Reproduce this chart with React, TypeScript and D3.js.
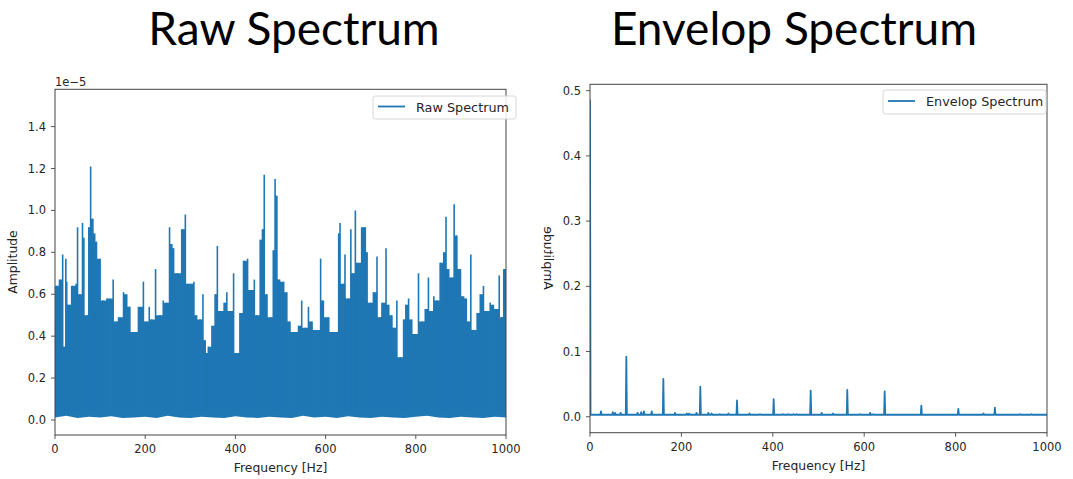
import React from "react";
import * as d3 from "d3";

// ---------- Raw spectrum (amplitude in units of 1e-5) ----------
// upper contour of the dense spectrum
const RAW_PEAK_HZ = [
  0, 2, 10, 17, 20, 24, 26, 31, 37, 47,
  50, 55, 61, 64, 72, 75, 79, 84, 88, 92,
  100, 107, 115, 129, 137, 141, 152, 159, 166, 174,
  185, 196, 203, 209, 214, 223, 233, 240, 248, 254,
  259, 263, 270, 281, 289, 296, 303, 308, 314, 322,
  328, 333, 337, 340, 348, 355, 360, 366, 375, 381,
  388, 396, 405, 410, 418, 427, 433, 442, 447, 455,
  460, 464, 470, 479, 484, 488, 492, 498, 507, 514,
  521, 533, 540, 547, 555, 562, 570, 577, 589, 595,
  607, 614, 629, 632, 640, 643, 651, 656, 660, 666,
  671, 680, 688, 692, 699, 706, 714, 721, 725, 734,
  740, 747, 752, 758, 766, 773, 778, 784, 791, 799,
  806, 814, 821, 828, 832, 840, 847, 854, 862, 867,
  873, 880, 885, 891, 899, 906, 912, 917, 922, 928,
  936, 943, 950, 958, 965, 972, 980, 985, 991, 995,
  1000,
];
const RAW_PEAK_AMP = [
  0.47, 0.64, 0.67, 0.79, 0.35, 0.77, 0.66, 0.55, 0.64, 0.65,
  0.92, 0.6, 0.94, 0.87, 0.5, 0.92, 1.21, 0.96, 0.89, 0.85,
  0.77, 0.57, 0.58, 0.67, 0.47, 0.49, 0.61, 0.6, 0.54, 0.42,
  0.54, 0.66, 0.47, 0.54, 0.48, 0.72, 0.5, 0.57, 0.56, 0.92,
  0.84, 0.82, 0.7, 0.91, 0.98, 0.65, 0.65, 0.66, 0.5, 0.48,
  0.6, 0.38, 0.32, 0.35, 0.45, 0.6, 0.83, 0.52, 0.56, 0.61,
  0.52, 0.7, 0.32, 0.51, 0.76, 0.77, 0.62, 0.67, 0.5, 0.86,
  0.91, 1.17, 0.6, 0.49, 0.81, 1.15, 1.07, 0.67, 0.66, 0.61,
  0.47, 0.42, 0.45, 0.57, 0.44, 0.54, 0.47, 0.43, 0.77, 0.57,
  0.49, 0.42, 0.89, 0.94, 0.65, 0.79, 0.58, 0.91, 0.7, 1.0,
  0.75, 0.92, 0.92, 0.8, 0.56, 0.61, 0.78, 0.49, 0.56, 0.82,
  0.55, 0.5, 0.44, 0.57, 0.3, 0.48, 0.55, 0.58, 0.48, 0.41,
  0.7, 0.47, 0.53, 0.68, 0.52, 0.59, 0.57, 0.75, 0.8, 0.97,
  0.72, 0.68, 1.03, 0.88, 0.72, 0.59, 0.58, 0.47, 0.79, 0.43,
  0.51, 0.6, 0.64, 0.52, 0.56, 0.55, 0.53, 0.69, 0.49, 0.72,
  0.72,
];
// lower edge of the dense spectrum on a coarse grid
const RAW_FLOOR_HZ = [
  0, 25, 50, 75, 100, 125, 150, 175, 200, 225,
  250, 275, 300, 325, 350, 375, 400, 425, 450, 475,
  500, 525, 550, 575, 600, 625, 650, 675, 700, 725,
  750, 775, 800, 825, 850, 875, 900, 925, 950, 975, 1000,
];
const RAW_FLOOR_AMP = [
  0.012, 0.02, 0.01, 0.015, 0.012, 0.018, 0.01, 0.012, 0.015, 0.01,
  0.02, 0.012, 0.01, 0.015, 0.012, 0.01, 0.018, 0.012, 0.01, 0.015,
  0.012, 0.01, 0.02, 0.012, 0.015, 0.01, 0.018, 0.012, 0.01, 0.015,
  0.012, 0.01, 0.015, 0.02, 0.012, 0.01, 0.015, 0.012, 0.01, 0.015, 0.012,
];
const RAW_Y_TICKS = [0, 0.2, 0.4, 0.6, 0.8, 1.0, 1.2, 1.4];
const RAW_Y_DOMAIN = [-0.0716, 1.578];

// ---------- Envelope spectrum ----------
const ENV_DC = 0.486;
const ENV_BASE = 0.003;
const ENV_HARM_HZ = [79.5, 160.5, 241.4, 321.7, 401.9, 482.9, 563, 644.8, 725, 806, 886];
const ENV_HARM_AMP = [0.092, 0.058, 0.046, 0.025, 0.027, 0.04, 0.041, 0.039, 0.017, 0.012, 0.014];
const ENV_BUMP_HZ = [24, 50, 55, 67, 104, 112, 118, 135, 186, 212, 217, 233, 259, 266, 284, 303, 349, 372, 422, 434, 445, 452, 507, 532, 591, 613, 620, 667, 700, 777, 861, 941, 966];
const ENV_BUMP_AMP = [0.008, 0.007, 0.006, 0.006, 0.006, 0.007, 0.008, 0.008, 0.006, 0.005, 0.005, 0.006, 0.006, 0.005, 0.004, 0.005, 0.005, 0.004, 0.004, 0.004, 0.004, 0.004, 0.006, 0.005, 0.004, 0.006, 0.004, 0.003, 0.003, 0.003, 0.005, 0.004, 0.004];
const ENV_Y_TICKS = [0, 0.1, 0.2, 0.3, 0.4, 0.5];
const ENV_Y_DOMAIN = [-0.0245, 0.5098];

const X_TICKS = [0, 200, 400, 600, 800, 1000];

const BLUE = "#1f77b4";
const TICK_FONT = "DejaVu Sans, sans-serif";

function Axes({ left, right, top, bottom, yDomain, yTicks, fmt, children, clipId }) {
  const x = d3.scaleLinear().domain([0, 1000]).range([left, right]);
  const y = d3.scaleLinear().domain(yDomain).range([bottom, top]);
  return (
    <g>
      <defs>
        <clipPath id={clipId}>
          <rect x={left} y={top} width={right - left} height={bottom - top} />
        </clipPath>
      </defs>
      <g clipPath={`url(#${clipId})`}>{children(x, y)}</g>
      <rect x={left} y={top} width={right - left} height={bottom - top} fill="none" stroke="#444" strokeWidth={1} />
      {X_TICKS.map((t) => (
        <g key={"x" + t}>
          <line x1={x(t)} x2={x(t)} y1={bottom} y2={bottom + 4} stroke="#444" strokeWidth={0.9} />
          <text x={x(t)} y={bottom + 18} textAnchor="middle" fontSize={11.5} fontFamily={TICK_FONT} fill="#262626">
            {t}
          </text>
        </g>
      ))}
      {yTicks.map((t) => (
        <g key={"y" + t}>
          <line x1={left - 4} x2={left} y1={y(t)} y2={y(t)} stroke="#444" strokeWidth={0.9} />
          <text x={left - 9} y={y(t) + 4} textAnchor="end" fontSize={11.5} fontFamily={TICK_FONT} fill="#262626">
            {fmt(t)}
          </text>
        </g>
      ))}
      <text x={(left + right) / 2} y={bottom + 37} textAnchor="middle" fontSize={12.4} fontFamily={TICK_FONT} fill="#262626">
        Frequency [Hz]
      </text>
    </g>
  );
}

function Legend({ x0, y0, w, h, label }) {
  return (
    <g>
      <rect x={x0} y={y0} width={w} height={h} rx={2.5} fill="#fff" fillOpacity={0.85} stroke="#d6d6d6" strokeWidth={1} />
      <line x1={x0 + 5} x2={x0 + 32} y1={y0 + h / 2 - 1} y2={y0 + h / 2 - 1} stroke={BLUE} strokeWidth={1.8} />
      <text x={x0 + 43} y={y0 + h / 2 + 4} fontSize={12.8} fontFamily={TICK_FONT} fill="#262626">
        {label}
      </text>
    </g>
  );
}

export default function App() {
  const n = Math.min(RAW_PEAK_HZ.length, RAW_PEAK_AMP.length);
  const peaks = RAW_PEAK_HZ.slice(0, n).map((hz, i) => ({ hz, amp: RAW_PEAK_AMP[i] }));
  // fill between two neighbouring spikes reaches the lower of the two
  const valleys = peaks.map((p, i) => ({
    hz: p.hz,
    amp: i < n - 1 ? Math.min(p.amp, peaks[i + 1].amp) : p.amp,
  }));
  const floor = RAW_FLOOR_HZ.map((hz, i) => ({ hz, amp: RAW_FLOOR_AMP[i] }));

  // Envelope polyline: DC line, then spikes on a flat baseline
  const spikes = [
    ...ENV_HARM_HZ.map((hz, i) => ({ hz, amp: ENV_HARM_AMP[i] })),
    ...ENV_BUMP_HZ.map((hz, i) => ({ hz, amp: ENV_BUMP_AMP[i] })),
  ].sort((a, b) => a.hz - b.hz);
  const envPts: [number, number][] = [[0, ENV_DC], [1.2, ENV_BASE]];
  spikes.forEach((s) => {
    envPts.push([s.hz - 1.2, ENV_BASE], [s.hz, s.amp], [s.hz + 1.2, ENV_BASE]);
  });
  envPts.push([1000, ENV_BASE]);

  return (
    <svg
      width={1073}
      height={479}
      style={{ position: "absolute", left: 0, top: 0, display: "block", background: "#fff" }}
    >
      <rect x={0} y={0} width={1073} height={479} fill="#fff" />
      {/* titles */}
      <text x={294} y={45} textAnchor="middle" fontSize={46} fontFamily="Lato, Open Sans, sans-serif" fill="#000">
        Raw Spectrum
      </text>
      <text x={794} y={45} textAnchor="middle" fontSize={46} fontFamily="Lato, Open Sans, sans-serif" fill="#000">
        Envelop Spectrum
      </text>

      {/* left chart */}
      <Axes left={55} right={506} top={89.3} bottom={435} yDomain={RAW_Y_DOMAIN} yTicks={RAW_Y_TICKS} fmt={(t) => d3.format(".1f")(t)} clipId="clipRaw">
        {(x, y) => {
          const body = d3
            .area<any>()
            .x((d) => x(d.hz))
            .y0(y(0.05))
            .y1((d) => y(d.amp))
            .curve(d3.curveStepAfter);
          const bottom = d3
            .area<any>()
            .x((d) => x(d.hz))
            .y0((d) => y(d.amp))
            .y1(y(0.2))
            .curve(d3.curveLinear);
          return (
            <g>
              <path d={bottom(floor) || ""} fill={BLUE} />
              <path d={body(valleys) || ""} fill={BLUE} />
              {peaks.map((p, i) => (
                <line key={i} x1={x(p.hz)} x2={x(p.hz)} y1={y(0.05)} y2={y(p.amp)} stroke={BLUE} strokeWidth={1.6} />
              ))}
            </g>
          );
        }}
      </Axes>
      <text x={55} y={86} fontSize={11.5} fontFamily={TICK_FONT} fill="#262626">
        1e−5
      </text>
      <text transform="translate(17,262) rotate(-90)" textAnchor="middle" fontSize={12.4} fontFamily={TICK_FONT} fill="#262626">
        Amplitude
      </text>
      <Legend x0={373} y0={96} w={143} h={23} label="Raw Spectrum" />

      {/* right chart */}
      <Axes left={590} right={1047} top={84.3} bottom={432.7} yDomain={ENV_Y_DOMAIN} yTicks={ENV_Y_TICKS} fmt={(t) => d3.format(".1f")(t)} clipId="clipEnv">
        {(x, y) => {
          const line = d3
            .line<[number, number]>()
            .x((d) => x(d[0]))
            .y((d) => y(d[1]));
          return <path d={line(envPts) || ""} fill="none" stroke={BLUE} strokeWidth={1.8} strokeLinejoin="round" />;
        }}
      </Axes>
      <defs>
        <clipPath id="clipAmpR">
          <rect x={541} y={200} width={20} height={120} />
        </clipPath>
      </defs>
      <g clipPath="url(#clipAmpR)">
        <text transform="translate(544,258) scale(-1,1) rotate(-90)" textAnchor="middle" fontSize={12.4} fontFamily={TICK_FONT} fill="#262626">
          Amplitude
        </text>
      </g>
      <Legend x0={883} y0={90} w={163} h={24} label="Envelop Spectrum" />
    </svg>
  );
}
